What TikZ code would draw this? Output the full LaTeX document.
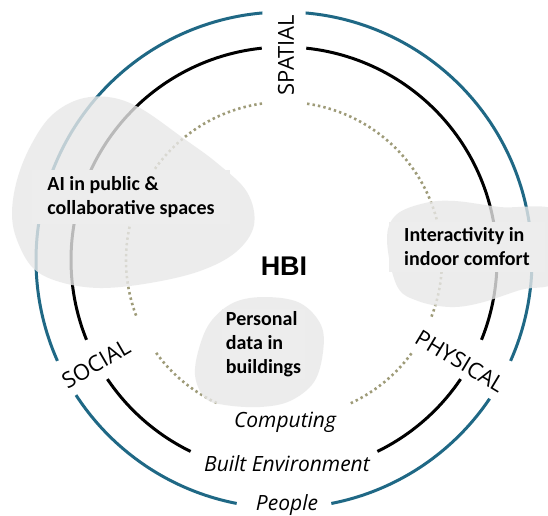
\documentclass[tikz,border=0pt]{standalone}
\usepackage{fontspec}
\setmainfont{Carlito}
\newfontfamily\osans{Open Sans}
\newfontfamily\lsans{Liberation Sans}
\definecolor{ringteal}{RGB}{31,104,133}
\definecolor{dotolive}{RGB}{158,155,120}
\definecolor{blobgray}{RGB}{232,232,232}
\definecolor{textbg}{RGB}{237,237,237}
\begin{document}
\begin{tikzpicture}[x=1pt,y=1pt,
  outerring/.style={draw=ringteal,line width=3pt},
  midring/.style={draw=black,line width=3pt},
  innerring/.style={draw=dotolive,line width=2.6pt,dash pattern=on 2.4pt off 3.1pt},
  blob/.style={fill=blobgray,fill opacity=0.8,draw=none},
  topic/.style={fill=textbg,font=\fontsize{20}{24}\selectfont\bfseries,align=left,inner xsep=15pt,inner ysep=6pt,text=black},
  dimlabel/.style={font=\osans\fontsize{22}{26}\selectfont},
  ringlabel/.style={font=\osans\itshape\fontsize{21}{25}\selectfont,anchor=base}]
\fill[white] (0,0) rectangle (548,-515);
\useasboundingbox (0,0) rectangle (548,-515);
\clip (0,0) rectangle (548,-515);
\begin{scope}[shift={(284pt,-260pt)}]
  % outer ring (People)
  \draw[outerring] (95:248pt) arc[start angle=95, end angle=204, radius=248pt];
  \draw[outerring] (213:248pt) arc[start angle=213, end angle=259, radius=248pt];
  \draw[outerring] (281:248pt) arc[start angle=281, end angle=326, radius=248pt];
  \draw[outerring] (336:248pt) arc[start angle=336, end angle=445, radius=248pt];
  % middle ring (Built Environment)
  \draw[midring] (96:213pt) arc[start angle=96, end angle=202, radius=213pt];
  \draw[midring] (214:213pt) arc[start angle=214, end angle=244, radius=213pt];
  \draw[midring] (296:213pt) arc[start angle=296, end angle=326, radius=213pt];
  \draw[midring] (338:213pt) arc[start angle=338, end angle=444, radius=213pt];
  % inner ring (Computing)
  \draw[innerring] (98:158pt) arc[start angle=98, end angle=201, radius=158pt];
  \draw[innerring] (216:158pt) arc[start angle=216, end angle=245, radius=158pt];
  \draw[innerring] (295:158pt) arc[start angle=295, end angle=324, radius=158pt];
  \draw[innerring] (339:158pt) arc[start angle=339, end angle=442, radius=158pt];
\end{scope}
% blobs
\fill[blob] plot[smooth cycle, tension=0.6] coordinates {(108,-97) (140,-108) (183,-138) (217,-163) (247,-192) (254,-225) (236,-252) (200,-271) (150,-283) (100,-288) (60,-282) (33,-268) (17,-240) (12,-213) (17,-180) (30,-147) (50,-117) (77,-100)};
\fill[blob] plot[smooth cycle, tension=0.6] coordinates {(387,-240) (396,-215) (425,-203) (455,-201) (500,-207) (560,-213) (560,-278) (520,-290) (480,-303) (450,-307) (418,-301) (397,-286)};
\fill[blob] plot[smooth cycle, tension=0.6] coordinates {(266,-297) (300,-303) (321,-325) (323,-352) (314,-382) (290,-401) (260,-407) (225,-405) (205,-398) (195,-375) (200,-345) (212,-320) (235,-302)};
% topic texts
\node[topic] (ai) at (131,-197) {AI in public \&\\collaborative spaces};
\node[topic] (ic) at (467,-247) {Interactivity in\\indoor comfort};
\node[topic,inner xsep=4pt,inner ysep=2pt] (pd) at (263.5,-344) {Personal\\data in\\buildings};
\node[font=\lsans\bfseries\fontsize{27}{30}\selectfont] (hbi) at (284,-266.5) {HBI};
% dimension labels
\node[dimlabel,rotate=90] (spatial) at (286,-55) {SPATIAL};
\node[dimlabel,rotate=30] (social) at (96,-364) {SOCIAL};
\node[dimlabel,rotate=-31] (physical) at (460,-361) {PHYSICAL};
% ring labels
\node[ringlabel] (comp) at (285,-427) {Computing};
\node[ringlabel] (built) at (287,-471) {Built Environment};
\node[ringlabel] (people) at (287,-510) {People};
\end{tikzpicture}
\end{document}
